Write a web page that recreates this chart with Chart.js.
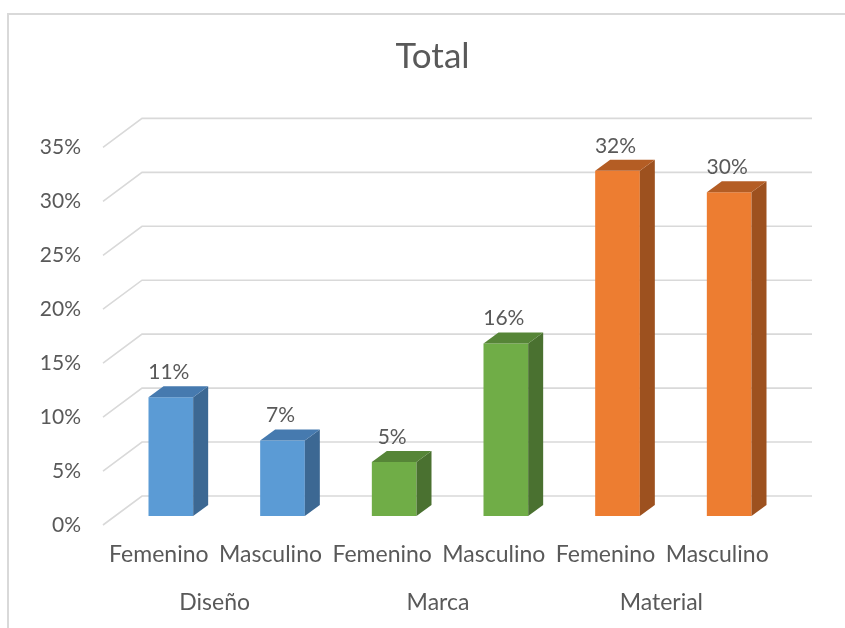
<!DOCTYPE html>
<html>
<head>
<meta charset="utf-8">
<script src="https://cdn.jsdelivr.net/npm/chart.js@4.4.1/dist/chart.umd.min.js"></script>
<style>
  body { margin: 0; background: #fff; }
  #wrap { position: relative; width: 845px; height: 628px; }
  #frame { position: absolute; left: 7px; top: 13px; right: 0; bottom: 0;
           border-left: 2px solid #d9d9d9; border-top: 2px solid #d9d9d9; }
  #totalChart { position: absolute; left: 0; top: 0; }
</style>
</head>
<body>
<div id="wrap">
  <div id="frame"></div>
  <canvas id="totalChart" width="845" height="628"></canvas>
</div>
<script>
const chartTitle = 'Total';
const categories = ['Femenino', 'Masculino', 'Femenino', 'Masculino', 'Femenino', 'Masculino'];
const groups = ['Diseño', 'Marca', 'Material'];
const percentages = [11, 7, 5, 16, 32, 30];
const yTicks = [0, 5, 10, 15, 20, 25, 30, 35];

// face colours per group: front, side, top
const fronts = ['#5b9bd5', '#5b9bd5', '#70ad47', '#70ad47', '#ed7d31', '#ed7d31'];
const sides = ['#3c6893', '#3c6893', '#4a7130', '#4a7130', '#9d511f', '#9d511f'];
const tops = ['#467aaf', '#467aaf', '#568537', '#568537', '#b45d24', '#b45d24'];

const textColor = '#595959';
const fontFamily = 'Lato, "Open Sans", sans-serif';

// depth offsets of the fake 3d box (bar plane -> front edge / back wall / bar back)
const FRONT = { dx: -12, dy: 9 };
const BACK = { dx: 27, dy: -20 };
const BAR_DEPTH = { dx: 15, dy: -11 };

const grid3d = {
  id: 'grid3d',
  beforeDatasetsDraw(chart) {
    const { ctx, chartArea, scales } = chart;
    ctx.save();
    ctx.strokeStyle = '#d9d9d9';
    ctx.lineWidth = 1.6;
    yTicks.forEach(v => {
      const y = scales.y.getPixelForValue(v);
      ctx.beginPath();
      ctx.moveTo(chartArea.left + FRONT.dx, y + FRONT.dy);
      ctx.lineTo(chartArea.left + BACK.dx, y + BACK.dy);
      ctx.lineTo(chartArea.right + BACK.dx, y + BACK.dy);
      ctx.stroke();
    });
    // title sits over the middle of the whole box (front edge to back wall)
    ctx.fillStyle = textColor;
    ctx.font = '35px ' + fontFamily;
    ctx.textAlign = 'center';
    ctx.textBaseline = 'middle';
    ctx.fillText(chartTitle, (chartArea.left + FRONT.dx + chartArea.right + BACK.dx) / 2 - 25, 57);
    ctx.restore();
  },
  afterDatasetsDraw(chart) {
    const { ctx } = chart;
    const meta = chart.getDatasetMeta(0);
    ctx.save();
    meta.data.forEach((bar, i) => {
      const left = bar.x - bar.width / 2;
      const right = bar.x + bar.width / 2;
      const top = bar.y;
      const base = bar.base;
      // side
      ctx.fillStyle = sides[i];
      ctx.beginPath();
      ctx.moveTo(right, top);
      ctx.lineTo(right + BAR_DEPTH.dx, top + BAR_DEPTH.dy);
      ctx.lineTo(right + BAR_DEPTH.dx, base + BAR_DEPTH.dy);
      ctx.lineTo(right, base);
      ctx.closePath();
      ctx.fill();
      // top
      ctx.fillStyle = tops[i];
      ctx.beginPath();
      ctx.moveTo(left, top);
      ctx.lineTo(left + BAR_DEPTH.dx, top + BAR_DEPTH.dy);
      ctx.lineTo(right + BAR_DEPTH.dx, top + BAR_DEPTH.dy);
      ctx.lineTo(right, top);
      ctx.closePath();
      ctx.fill();
      // value label
      ctx.fillStyle = textColor;
      ctx.font = '21px ' + fontFamily;
      ctx.textAlign = 'center';
      ctx.textBaseline = 'middle';
      ctx.fillText(percentages[i] + '%', bar.x - 2, top - 25);
    });
    ctx.restore();
  }
};

new Chart(document.getElementById('totalChart'), {
  type: 'bar',
  data: {
    labels: categories,
    datasets: [{
      data: percentages,
      backgroundColor: fronts,
      borderWidth: 0,
      barPercentage: 0.4,
      categoryPercentage: 1.0
    }]
  },
  options: {
    responsive: false,
    animation: false,
    layout: { padding: { left: 0, right: 60, top: 138.4, bottom: 0 } },
    plugins: {
      legend: { display: false },
      tooltip: { enabled: false },
      title: { display: false }
    },
    scales: {
      y: {
        min: 0,
        max: 35,
        afterFit: s => { s.width = 115; },
        afterBuildTicks: s => { s.ticks = yTicks.map(v => ({ value: v })); },
        grid: { display: false, drawTicks: false },
        border: { display: false },
        ticks: {
          color: textColor,
          font: { family: fontFamily, size: 21 },
          padding: 34,
          labelOffset: 9,
          callback: v => v + '%'
        }
      },
      x: {
        afterFit: s => { s.height = 60; },
        grid: { display: false, drawTicks: false },
        border: { display: false },
        ticks: {
          color: textColor,
          font: { family: fontFamily, size: 23 },
          padding: 25,
          labelOffset: -12,
          maxRotation: 0,
          autoSkip: false
        }
      },
      groups: {
        type: 'category',
        labels: groups,
        position: 'bottom',
        offset: true,
        weight: 1,
        afterFit: s => { s.height = 52; },
        grid: { display: false, drawTicks: false },
        border: { display: false },
        ticks: {
          color: textColor,
          font: { family: fontFamily, size: 23 },
          padding: 13,
          labelOffset: -12,
          maxRotation: 0
        }
      }
    }
  },
  plugins: [grid3d]
});
</script>
</body>
</html>
